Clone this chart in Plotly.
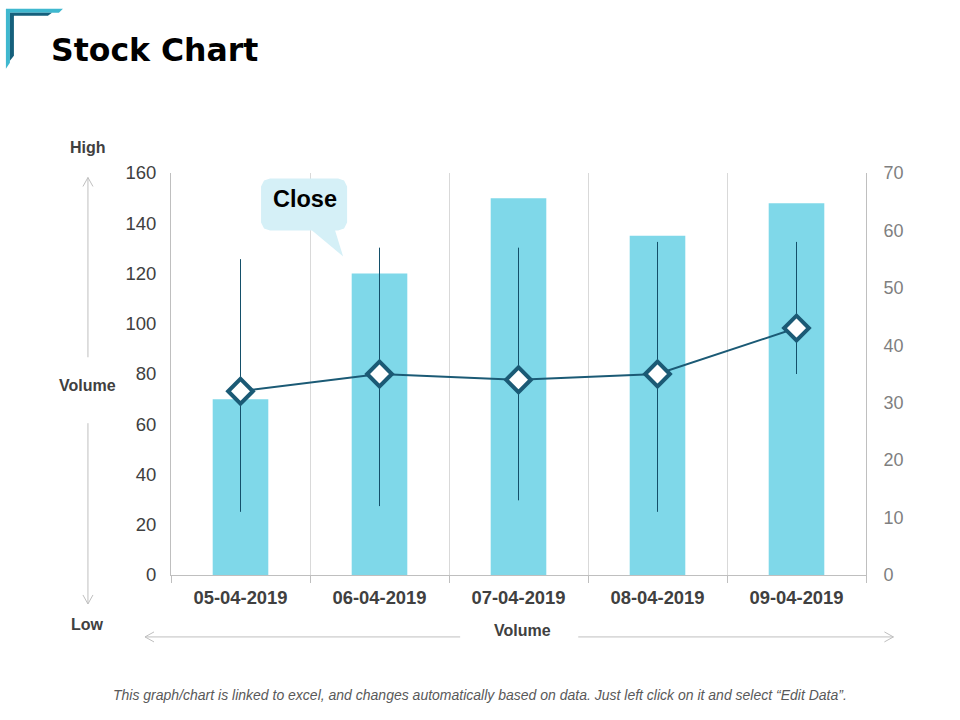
import plotly.graph_objects as go

# chart data
dates = ["05-04-2019", "06-04-2019", "07-04-2019", "08-04-2019", "09-04-2019"]
volume = [70, 120, 150, 135, 148]
high = [55, 57, 57, 58, 58]
low = [11, 12, 13, 11, 35]
close = [32, 35, 34, 35, 43]
left_ticks = [0, 20, 40, 60, 80, 100, 120, 140, 160]
right_ticks = [0, 10, 20, 30, 40, 50, 60, 70]

# plot area in page pixels
LEFT, RIGHT, TOP, BOTTOM = 171, 865.6, 172.5, 575
GREY = "#bfbfbf"
DARK = "#1b5a75"
TEXT = "#404040"


def px(x, y):
    # page pixels -> paper coords
    return (x - LEFT) / (RIGHT - LEFT), (BOTTOM - y) / (BOTTOM - TOP)


def poly(points, fill):
    parts = []
    for i, p in enumerate(points):
        x, y = px(*p)
        parts.append(("M" if i == 0 else "L") + f"{x:.5f},{y:.5f}")
    return dict(type="path", xref="paper", yref="paper", path=" ".join(parts) + " Z",
                fillcolor=fill, line=dict(width=0), layer="above")


def seg(x0, y0, x1, y1, color=GREY, width=1):
    a, b = px(x0, y0)
    c, d = px(x1, y1)
    return dict(type="line", xref="paper", yref="paper", x0=a, y0=b, x1=c, y1=d,
                line=dict(color=color, width=width), layer="above")


def label(x, y, text, size=16, color=TEXT, bold=True, italic=False, family="Liberation Sans"):
    a, b = px(x, y)
    return dict(xref="paper", yref="paper", x=a, y=b, text=text, showarrow=False,
                xanchor="center", yanchor="middle",
                font=dict(family=family, size=size, color=color,
                          weight="bold" if bold else "normal",
                          style="italic" if italic else "normal"))


fig = go.Figure()

fig.add_trace(go.Bar(x=dates, y=volume, marker=dict(color="#7fd8e9", line=dict(width=0)), width=0.4))

fig.add_trace(go.Scatter(
    x=dates, y=close, yaxis="y2", mode="lines+markers",
    line=dict(color=DARK, width=2),
    marker=dict(symbol="diamond", size=19, color="white", line=dict(color=DARK, width=4)),
    error_y=dict(type="data", symmetric=False, width=0, thickness=1, color="#14506a",
                 array=[h - c for h, c in zip(high, close)],
                 arrayminus=[c - l for c, l in zip(close, low)]),
))

shapes = [
    # corner logo
    poly([(6, 8), (63, 8), (59, 12), (10, 12), (10, 62), (6, 68)], "#3fb8cf"),
    poly([(10, 12), (52, 12), (48, 15), (14, 15), (14, 55), (10, 60)], "#15607c"),
    # arrows left and bottom
    seg(88, 177, 88, 357), seg(83, 186, 88, 177), seg(93, 186, 88, 177),
    seg(88, 423, 88, 604), seg(83, 595, 88, 604), seg(93, 595, 88, 604),
    seg(145, 637, 460, 637), seg(154, 632, 145, 637), seg(154, 642, 145, 637),
    seg(578, 637, 893, 637), seg(884, 632, 893, 637), seg(884, 642, 893, 637),
    # callout
    poly([(270, 178), (338, 178), (344, 180), (347, 186), (347, 222), (344, 228), (338, 230),
          (335, 230), (343, 256), (312, 230), (270, 230), (264, 228), (261, 222), (261, 186),
          (264, 180)], "#d5f0f7"),
]

annotations = [
    label(88, 147, "High"),
    label(88, 385, "Volume"),
    label(88, 625, "Low"),
    label(522, 631, "Volume"),
    label(305, 199, "Close", size=23.5, color="#000000"),
    label(480, 695, "This graph/chart is linked to excel, and changes automatically based on data. "
                    "Just left click on it and select “Edit Data”.",
          size=14, color="#595959", bold=False, italic=True),
]

fig.update_layout(
    width=960, height=720, autosize=False,
    margin=dict(l=LEFT, r=960 - RIGHT, t=TOP, b=720 - BOTTOM),
    paper_bgcolor="white", plot_bgcolor="white",
    showlegend=False,
    title=dict(text="<b>Stock Chart</b>", x=51 / 960, xanchor="left",
               y=1 - 50 / 720, yanchor="middle",
               font=dict(family="DejaVu Sans", size=31.5, color="#000000")),
    xaxis=dict(type="category", tickson="boundaries", showgrid=True, gridcolor="#d9d9d9", gridwidth=1,
               showline=True, linecolor=GREY, linewidth=1, ticks="outside", ticklen=7, tickcolor=GREY,
               ticklabelstandoff=6,
               tickfont=dict(family="Liberation Sans", size=18.4, color=TEXT, weight="bold"),
               range=[-0.5, 4.5]),
    yaxis=dict(range=[0, 160], tickvals=left_ticks, showgrid=False, zeroline=False,
               showline=True, linecolor=GREY, linewidth=1, ticks="", ticklabelstandoff=10,
               tickfont=dict(family="Liberation Sans", size=18.5, color=TEXT)),
    yaxis2=dict(range=[0, 70], tickvals=right_ticks, overlaying="y", side="right", showgrid=False,
                zeroline=False, showline=True, linecolor=GREY, linewidth=1, ticks="", ticklabelstandoff=13,
                tickfont=dict(family="Liberation Sans", size=18, color="#7f7f7f")),
    shapes=shapes,
    annotations=annotations,
)

# drop the browser's default body margin so the logo at the page edge is not cut
fig.write_html("out.html", config=dict(displayModeBar=False),
               post_script="document.body.style.margin='0';")
